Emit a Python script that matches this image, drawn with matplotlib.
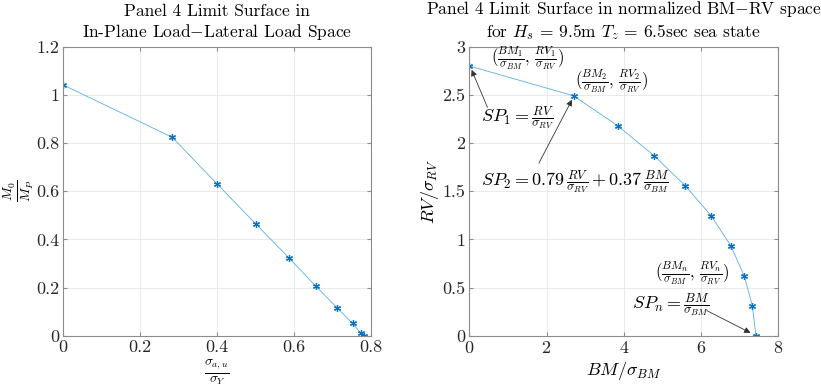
import matplotlib
matplotlib.use("Agg")
import matplotlib.pyplot as plt

plt.rcParams['font.family'] = 'serif'
plt.rcParams['font.serif'] = ['cmr10']
plt.rcParams['mathtext.fontset'] = 'cm'
plt.rcParams['axes.formatter.use_mathtext'] = True
plt.rcParams['axes.unicode_minus'] = False

# donnees panneau gauche
sig_ratio = [0.0, 0.283, 0.40, 0.501, 0.588, 0.657, 0.712, 0.752, 0.773, 0.783]
m_ratio = [1.041, 0.824, 0.63, 0.463, 0.321, 0.205, 0.116, 0.051, 0.012, 0.0]

# donnees panneau droit
bm_norm = [0.0, 2.70, 3.84, 4.78, 5.59, 6.26, 6.77, 7.12, 7.33, 7.42]
rv_norm = [2.80, 2.49, 2.18, 1.87, 1.557, 1.246, 0.934, 0.62, 0.308, 0.0]

line_col = '#5aaee6'
mark_col = '#0a72c0'
edge_col = '#262626'
asterisk = (6, 2, 0)


def style_axes(ax):
    ax.grid(True, color='#e6e6e6', lw=0.6)
    ax.set_axisbelow(True)
    for s in ax.spines.values():
        s.set_color('#8c8c8c')
        s.set_linewidth(0.8)
    ax.tick_params(direction='in', top=True, right=True, length=3,
                   color='#8c8c8c', labelsize=13, labelcolor=edge_col, pad=3)


fig = plt.figure(figsize=(8.21, 3.87), dpi=100)

ax1 = fig.add_axes([63.3 / 821, 51.3 / 387, 307.7 / 821, 289 / 387])
ax1.plot(sig_ratio, m_ratio, '-', color=line_col, lw=0.6)
ax1.plot(sig_ratio, m_ratio, ls='none', marker=asterisk, color=mark_col, ms=5, mew=0.9)
ax1.set_xlim(0, 0.8)
ax1.set_ylim(0, 1.2)
ax1.set_xticks([0, 0.2, 0.4, 0.6, 0.8])
ax1.set_xticklabels(['0', '0.2', '0.4', '0.6', '0.8'])
ax1.set_yticks([0, 0.2, 0.4, 0.6, 0.8, 1.0, 1.2])
ax1.set_yticklabels(['0', '0.2', '0.4', '0.6', '0.8', '1', '1.2'])
style_axes(ax1)
ax1.set_title('Panel 4 Limit Surface in\nIn-Plane Load$-$Lateral Load Space',
              fontsize=12.5, color='k', pad=7, linespacing=1.2)
ax1.set_xlabel(r'$\frac{\sigma_{a,u}}{\sigma_Y}$', fontsize=14, labelpad=1)
ax1.set_ylabel(r'$\frac{M_0}{M_P}$', fontsize=14, labelpad=0)

ax2 = fig.add_axes([469.3 / 821, 51.3 / 387, 309 / 821, 289 / 387])
ax2.plot(bm_norm, rv_norm, '-', color=line_col, lw=0.6)
ax2.plot(bm_norm, rv_norm, ls='none', marker=asterisk, color=mark_col, ms=5, mew=0.9)
ax2.set_xlim(0, 8)
ax2.set_ylim(0, 3)
ax2.set_xticks([0, 2, 4, 6, 8])
ax2.set_yticks([0, 0.5, 1, 1.5, 2, 2.5, 3])
ax2.set_yticklabels(['0', '0.5', '1', '1.5', '2', '2.5', '3'])
style_axes(ax2)
ax2.set_title('Panel 4 Limit Surface in normalized BM$-$RV space\n'
              r'for $H_s$ = 9.5m $T_z$ = 6.5sec sea state',
              fontsize=12.5, color='k', pad=7, linespacing=1.2)
ax2.set_xlabel(r'$BM/\sigma_{BM}$', fontsize=13, labelpad=3)
ax2.set_ylabel(r'$RV/\sigma_{RV}$', fontsize=13, labelpad=1)

arrow = dict(arrowstyle='-|>', color='#333333', lw=0.6, mutation_scale=9,
             shrinkA=0, shrinkB=0)
ax2.text(0.55, 2.88, r'$(\frac{BM_1}{\sigma_{BM}},\, \frac{RV_1}{\sigma_{RV}})$',
         fontsize=12, va='center', ha='left')
ax2.text(2.74, 2.64, r'$(\frac{BM_2}{\sigma_{BM}},\, \frac{RV_2}{\sigma_{RV}})$',
         fontsize=12, va='center', ha='left')
ax2.text(4.8, 0.65, r'$(\frac{BM_n}{\sigma_{BM}},\, \frac{RV_n}{\sigma_{RV}})$',
         fontsize=12, va='center', ha='left')

ax2.text(0.3, 2.26, r'$SP_1 = \frac{RV}{\sigma_{RV}}$',
         fontsize=13, va='center', ha='left')
ax2.annotate('', xy=(0.06, 2.76), xytext=(0.47, 2.37), arrowprops=arrow)
ax2.text(0.3, 1.6, r'$SP_2 = 0.79\,\frac{RV}{\sigma_{RV}} + 0.37\,\frac{BM}{\sigma_{BM}}$',
         fontsize=13, va='center', ha='left')
ax2.annotate('', xy=(2.66, 2.45), xytext=(1.8, 1.79), arrowprops=arrow)
ax2.text(4.22, 0.32, r'$SP_n = \frac{BM}{\sigma_{BM}}$',
         fontsize=13, va='center', ha='left')
ax2.annotate('', xy=(7.28, 0.03), xytext=(6.15, 0.26), arrowprops=arrow)

fig.savefig('out.png', dpi=100)
